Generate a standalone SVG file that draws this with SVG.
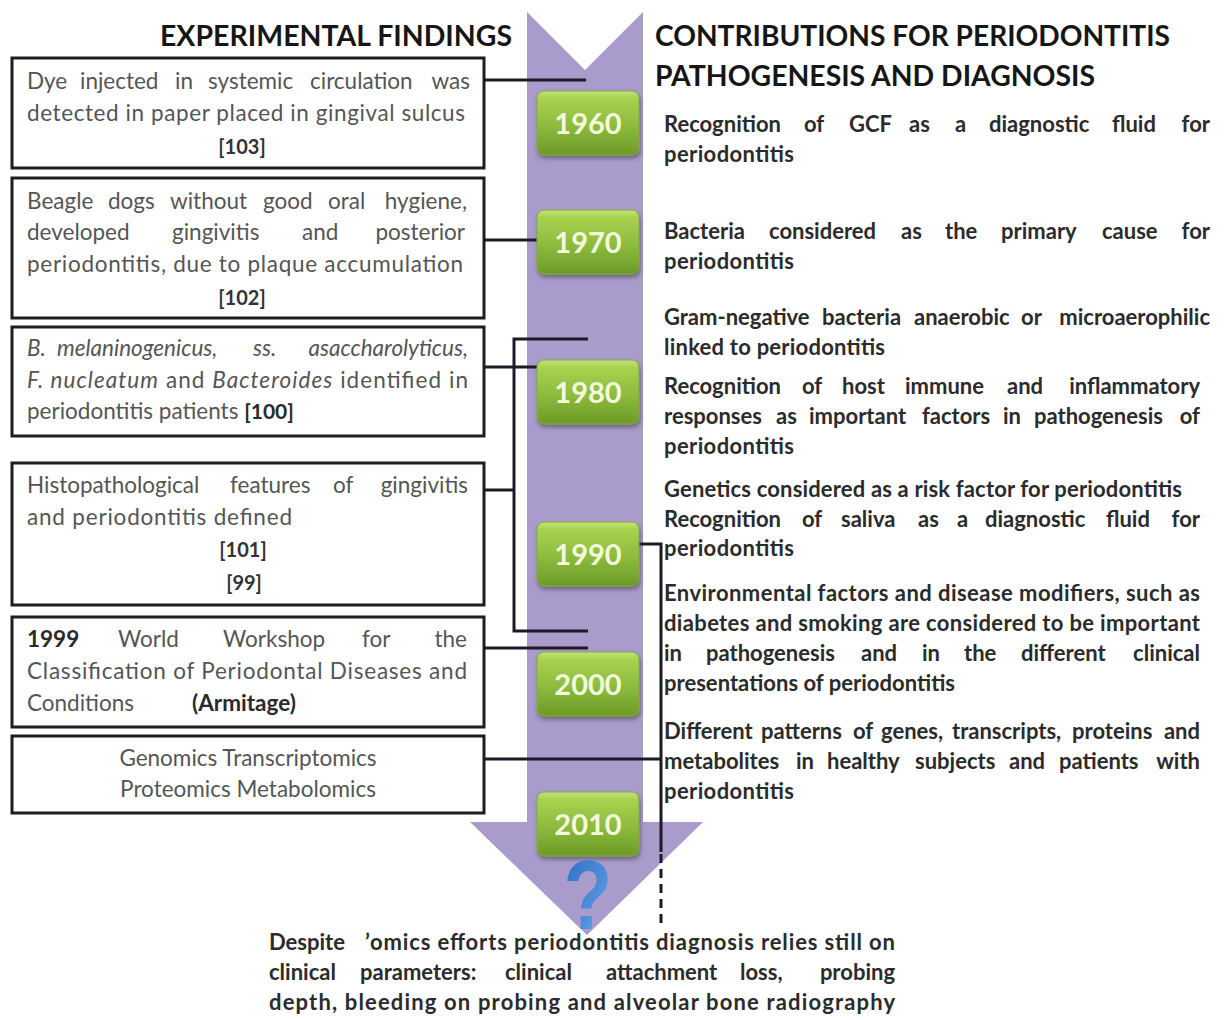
<svg xmlns="http://www.w3.org/2000/svg" width="1225" height="1020" viewBox="0 0 1225 1020">
<defs>
  <linearGradient id="gy" x1="0" y1="0" x2="0" y2="1">
    <stop offset="0" stop-color="#c3e273"/>
    <stop offset="0.12" stop-color="#a8d150"/>
    <stop offset="0.55" stop-color="#8dbb3d"/>
    <stop offset="1" stop-color="#6c9a26"/>
  </linearGradient>
  <linearGradient id="gq" x1="0" y1="0" x2="1" y2="1">
    <stop offset="0" stop-color="#2e6bc0"/>
    <stop offset="0.6" stop-color="#4f8fdb"/>
    <stop offset="1" stop-color="#8cbcec"/>
  </linearGradient>
  <filter id="sh" x="-20%" y="-20%" width="140%" height="150%">
    <feDropShadow dx="1" dy="3" stdDeviation="2" flood-color="#3a3a3a" flood-opacity="0.55"/>
  </filter>
</defs>
<style>
  .hdr{font-family:Lato,"Liberation Sans",Arial,sans-serif;font-weight:700;font-size:28px;fill:#161616}
  .l{font-family:Lato,"Liberation Sans",Arial,sans-serif;font-weight:400;font-size:22.5px;fill:#555}
  .ref{font-family:Lato,"Liberation Sans",Arial,sans-serif;font-weight:700;font-size:20px;fill:#333}
  .b{font-weight:700;fill:#2a2a2a}
  .it{font-style:italic}
  .r{font-family:Lato,"Liberation Sans",Arial,sans-serif;font-weight:700;font-size:22px;fill:#2b2b2b}
  .e{text-anchor:end}
  .box{fill:#fff;stroke:#1e1e1e;stroke-width:3}
  .yb{fill:url(#gy);stroke:#86ab45;stroke-width:1;filter:url(#sh)}
  .yt{font-family:Lato,"Liberation Sans",Arial,sans-serif;font-weight:700;font-size:29px;fill:#f3f9de;text-anchor:middle}
  .con{stroke:#1b1b26;stroke-width:3;fill:none}
</style>
<rect width="1225" height="1020" fill="#fff"/>

<!-- timeline arrow -->
<polygon id="timeline" points="527,12 585,70 643,12 643,822 703,822 587,935 470,822 527,822" fill="#a99bcc"/>

<!-- headers -->
<g id="header-left"><text class="hdr" x="160" y="46" textLength="352" lengthAdjust="spacingAndGlyphs">EXPERIMENTAL FINDINGS</text></g>
<g id="header-right">
  <text class="hdr" x="655" y="46" textLength="515" lengthAdjust="spacingAndGlyphs">CONTRIBUTIONS FOR PERIODONTITIS</text>
  <text class="hdr" x="655" y="86" textLength="440" lengthAdjust="spacingAndGlyphs">PATHOGENESIS AND DIAGNOSIS</text>
</g>

<!-- connectors -->
<g id="connectors">
  <path class="con" d="M484 80 H586"/>
  <path class="con" d="M484 240 H537"/>
  <path class="con" d="M484 367 H537"/>
  <path class="con" d="M588 339 H514 V631 H588"/>
  <path class="con" d="M484 490 H514"/>
  <path class="con" d="M484 648 H588"/>
  <path class="con" d="M484 759 H661"/>
  <path class="con" d="M639 544 H661 V852"/>
  <path class="con" d="M661 854 V928" stroke-dasharray="9 6"/>
</g>

<!-- left boxes -->
<g id="finding-1960">
  <rect class="box" x="12" y="58" width="472" height="110"/>
  <text class="l" y="89"><tspan x="27">Dye</tspan><tspan x="80">injected</tspan><tspan x="175">in</tspan><tspan x="208">systemic</tspan><tspan x="310">circulation</tspan><tspan x="470" class="e">was</tspan></text>
  <text class="l" x="27" y="121" textLength="438" lengthAdjust="spacing">detected in paper placed in gingival sulcus</text>
  <text class="ref" x="242" y="154" text-anchor="middle">[103]</text>
</g>
<g id="finding-1970">
  <rect class="box" x="12" y="178" width="472" height="140"/>
  <text class="l" y="209"><tspan x="27">Beagle</tspan><tspan x="108">dogs</tspan><tspan x="170">without</tspan><tspan x="263">good</tspan><tspan x="328">oral</tspan><tspan x="467" class="e">hygiene,</tspan></text>
  <text class="l" y="240"><tspan x="27">developed</tspan><tspan x="172">gingivitis</tspan><tspan x="302">and</tspan><tspan x="465" class="e">posterior</tspan></text>
  <text class="l" x="27" y="272" textLength="436" lengthAdjust="spacing">periodontitis, due to plaque accumulation</text>
  <text class="ref" x="242" y="305" text-anchor="middle">[102]</text>
</g>
<g id="finding-1980">
  <rect class="box" x="12" y="327" width="472" height="109"/>
  <text class="l it" y="356"><tspan x="27">B.</tspan><tspan x="57">melaninogenicus,</tspan><tspan x="253">ss.</tspan><tspan x="468" class="e">asaccharolyticus,</tspan></text>
  <text class="l" x="27" y="388" textLength="441" lengthAdjust="spacing"><tspan class="it">F. nucleatum</tspan> and <tspan class="it">Bacteroides</tspan> identified in</text>
  <text class="l" x="27" y="419">periodontitis patients <tspan class="b" font-size="21">[100]</tspan></text>
</g>
<g id="finding-histo">
  <rect class="box" x="12" y="463" width="472" height="142"/>
  <text class="l" y="493"><tspan x="27">Histopathological</tspan><tspan x="230">features</tspan><tspan x="333">of</tspan><tspan x="468" class="e">gingivitis</tspan></text>
  <text class="l" x="27" y="525" textLength="265" lengthAdjust="spacing">and periodontitis defined</text>
  <text class="ref" x="243" y="557" text-anchor="middle">[101]</text>
  <text class="ref" x="244" y="590" text-anchor="middle">[99]</text>
</g>
<g id="finding-2000">
  <rect class="box" x="12" y="617" width="472" height="110"/>
  <text class="l" y="647"><tspan x="27" class="b">1999</tspan><tspan x="118">World</tspan><tspan x="223">Workshop</tspan><tspan x="362">for</tspan><tspan x="467" class="e">the</tspan></text>
  <text class="l" x="27" y="679" textLength="440" lengthAdjust="spacing">Classification of Periodontal Diseases and</text>
  <text class="l" y="711"><tspan x="27">Conditions</tspan><tspan x="192" class="b">(Armitage)</tspan></text>
</g>
<g id="finding-omics">
  <rect class="box" x="12" y="736" width="472" height="77"/>
  <text class="l" x="248" y="766" text-anchor="middle">Genomics Transcriptomics</text>
  <text class="l" x="248" y="797" text-anchor="middle">Proteomics Metabolomics</text>
</g>

<!-- year boxes -->
<g id="y1960"><rect class="yb" x="537" y="91" width="102" height="64" rx="7"/><text class="yt" x="588" y="134">1960</text></g>
<g id="y1970"><rect class="yb" x="537" y="210" width="102" height="64" rx="7"/><text class="yt" x="588" y="253">1970</text></g>
<g id="y1980"><rect class="yb" x="537" y="360" width="102" height="64" rx="7"/><text class="yt" x="588" y="403">1980</text></g>
<g id="y1990"><rect class="yb" x="537" y="522" width="102" height="64" rx="7"/><text class="yt" x="588" y="565">1990</text></g>
<g id="y2000"><rect class="yb" x="537" y="652" width="102" height="64" rx="7"/><text class="yt" x="588" y="695">2000</text></g>
<g id="y2010"><rect class="yb" x="537" y="792" width="102" height="64" rx="7"/><text class="yt" x="588" y="835">2010</text></g>

<!-- question mark -->
<g id="question"><text x="0" y="0" transform="translate(588 929) scale(1 1.22)" text-anchor="middle" font-family="'Liberation Sans',Arial,sans-serif" font-weight="700" font-size="80" fill="url(#gq)">?</text></g>

<!-- right column -->
<g id="contrib-1960">
  <text class="r" y="132"><tspan x="664">Recognition</tspan><tspan x="804">of</tspan><tspan x="849">GCF</tspan><tspan x="909">as</tspan><tspan x="955">a</tspan><tspan x="989">diagnostic</tspan><tspan x="1112">fluid</tspan><tspan x="1210" class="e">for</tspan></text>
  <text class="r" x="664" y="162" textLength="130" lengthAdjust="spacing">periodontitis</text>
</g>
<g id="contrib-1970">
  <text class="r" y="239"><tspan x="664">Bacteria</tspan><tspan x="769">considered</tspan><tspan x="901">as</tspan><tspan x="945">the</tspan><tspan x="1001">primary</tspan><tspan x="1102">cause</tspan><tspan x="1210" class="e">for</tspan></text>
  <text class="r" x="664" y="269" textLength="130" lengthAdjust="spacing">periodontitis</text>
</g>
<g id="contrib-1980">
  <text class="r" y="325"><tspan x="664">Gram-negative</tspan><tspan x="822">bacteria</tspan><tspan x="914">anaerobic</tspan><tspan x="1021">or</tspan><tspan x="1210" class="e">microaerophilic</tspan></text>
  <text class="r" x="664" y="355" textLength="221" lengthAdjust="spacing">linked to periodontitis</text>
  <text class="r" y="394"><tspan x="664">Recognition</tspan><tspan x="802">of</tspan><tspan x="842">host</tspan><tspan x="905">immune</tspan><tspan x="1007">and</tspan><tspan x="1200" class="e">inflammatory</tspan></text>
  <text class="r" y="424"><tspan x="664">responses</tspan><tspan x="776">as</tspan><tspan x="809">important</tspan><tspan x="922">factors</tspan><tspan x="1003">in</tspan><tspan x="1034">pathogenesis</tspan><tspan x="1200" class="e">of</tspan></text>
  <text class="r" x="664" y="454" textLength="130" lengthAdjust="spacing">periodontitis</text>
</g>
<g id="contrib-1990">
  <text class="r" x="664" y="497" textLength="518" lengthAdjust="spacing">Genetics considered as a risk factor for periodontitis</text>
  <text class="r" y="527"><tspan x="664">Recognition</tspan><tspan x="802">of</tspan><tspan x="841">saliva</tspan><tspan x="918">as</tspan><tspan x="957">a</tspan><tspan x="985">diagnostic</tspan><tspan x="1106">fluid</tspan><tspan x="1200" class="e">for</tspan></text>
  <text class="r" x="664" y="556" textLength="130" lengthAdjust="spacing">periodontitis</text>
</g>
<g id="contrib-2000">
  <text class="r" x="664" y="601" textLength="536" lengthAdjust="spacing">Environmental factors and disease modifiers, such as</text>
  <text class="r" x="664" y="631" textLength="536" lengthAdjust="spacing">diabetes and smoking are considered to be important</text>
  <text class="r" y="661"><tspan x="664">in</tspan><tspan x="706">pathogenesis</tspan><tspan x="861">and</tspan><tspan x="922">in</tspan><tspan x="964">the</tspan><tspan x="1021">different</tspan><tspan x="1200" class="e">clinical</tspan></text>
  <text class="r" x="664" y="691" textLength="291" lengthAdjust="spacing">presentations of periodontitis</text>
</g>
<g id="contrib-2010">
  <text class="r" y="739"><tspan x="664">Different</tspan><tspan x="761">patterns</tspan><tspan x="853">of</tspan><tspan x="881">genes,</tspan><tspan x="952">transcripts,</tspan><tspan x="1072">proteins</tspan><tspan x="1200" class="e">and</tspan></text>
  <text class="r" y="769"><tspan x="664">metabolites</tspan><tspan x="796">in</tspan><tspan x="827">healthy</tspan><tspan x="915">subjects</tspan><tspan x="1009">and</tspan><tspan x="1059">patients</tspan><tspan x="1200" class="e">with</tspan></text>
  <text class="r" x="664" y="799" textLength="130" lengthAdjust="spacing">periodontitis</text>
</g>

<!-- bottom conclusion -->
<g id="conclusion">
  <text class="r" x="269" y="950">Despite</text>
  <text class="r" x="365" y="950" textLength="530" lengthAdjust="spacing">’omics efforts periodontitis diagnosis relies still on</text>
  <text class="r" y="980"><tspan x="269">clinical</tspan><tspan x="360">parameters:</tspan><tspan x="505">clinical</tspan><tspan x="606">attachment</tspan><tspan x="740">loss,</tspan><tspan x="895" class="e">probing</tspan></text>
  <text class="r" x="269" y="1010" textLength="626" lengthAdjust="spacing">depth, bleeding on probing and alveolar bone radiography</text>
</g>
</svg>
